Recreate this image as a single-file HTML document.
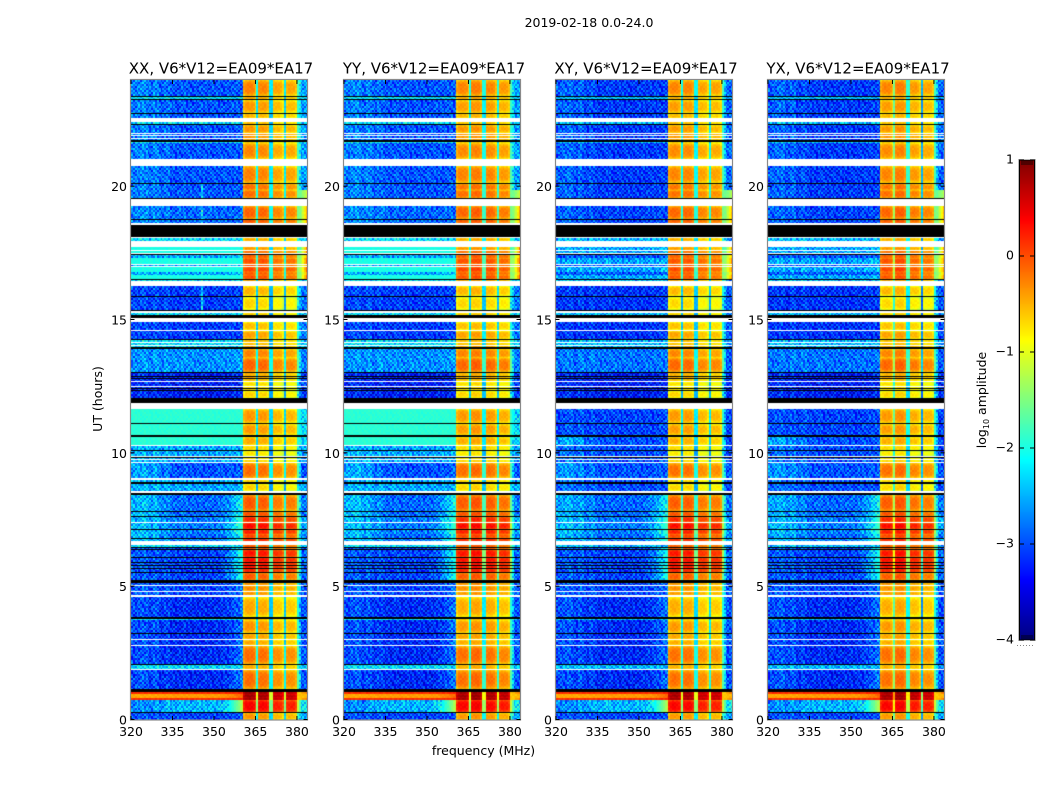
<!DOCTYPE html>
<html lang="en">
<head>
<meta charset="utf-8">
<title>2019-02-18 amplitude waterfall</title>
<style>
html,body{margin:0;padding:0;background:#fff;}
#figure{position:relative;width:1050px;height:800px;overflow:hidden;background:#fff;font-family:"DejaVu Sans","Liberation Sans",sans-serif;}
canvas{position:absolute;display:block;}
#overlay{position:absolute;left:0;top:0;}
#overlay text{font-family:"DejaVu Sans","Liberation Sans",sans-serif;fill:#000;}
</style>
</head>
<body>
<div id="figure">
  <canvas id="heat0" width="177" height="640" style="left:131px;top:80px"></canvas>
  <canvas id="heat1" width="177" height="640" style="left:344px;top:80px"></canvas>
  <canvas id="heat2" width="177" height="640" style="left:556px;top:80px"></canvas>
  <canvas id="heat3" width="177" height="640" style="left:768px;top:80px"></canvas>
  <canvas id="cbar" width="16" height="480" style="left:1019px;top:160px"></canvas>
  <svg id="overlay" width="1050" height="800" viewBox="0 0 1050 800">
    <text x="589" y="27" font-size="12.5" text-anchor="middle">2019-02-18 0.0-24.0</text>
    <text x="483.5" y="755" font-size="12.5" text-anchor="middle">frequency (MHz)</text>
    <text transform="translate(102,399) rotate(-90)" font-size="12.5" text-anchor="middle">UT (hours)</text>
    <text transform="translate(986,400) rotate(-90)" font-size="12.5" text-anchor="middle">log<tspan font-size="8" dy="3">10</tspan><tspan dy="-3"> amplitude</tspan></text>
  </svg>
</div>
<script>
// ---- Panels ----
const panelTitles = ["XX, V6*V12=EA09*EA17", "YY, V6*V12=EA09*EA17", "XY, V6*V12=EA09*EA17", "YX, V6*V12=EA09*EA17"];
const panelKeys = ["xx", "yy", "xy", "yx"];
const panelIsParallel = [true, true, false, false];

// ---- Axis ticks ----
const freqTicks = [320, 335, 350, 365, 380];
const utTicks = [0, 5, 10, 15, 20];
const colorTicks = [1, 0, -1, -2, -3, -4];
const colorTickLabels = ["1", "0", "\u22121", "\u22122", "\u22123", "\u22124"];

// ---- Time rows: start UT of each row, top to bottom ----
const W = -1, B = -2; // W = flagged (white), B = zero amplitude (black)
const rowStartUT = [
24,23.4,23.3625,23.2875,23.25,22.7625,22.725,22.575,22.425,22.35,
22.3125,22.0125,21.975,21.9375,21.9,21.825,21.7875,21.75,21.675,21.6375,
21.0375,20.775,20.1375,20.1,19.875,19.575,19.5375,19.275,18.7875,18.75,
18.6375,18.5625,18.1125,18.075,17.9625,17.7375,17.625,17.5875,17.5125,17.475,
17.4375,17.325,17.1,17.0625,17.025,16.9875,16.8,16.6875,16.5375,16.5,
16.4625,16.275,15.9,15.8625,15.375,15.3375,15.2625,15.1875,15.075,14.925,
14.625,14.5875,14.2875,14.25,14.175,14.1375,14.0625,14.025,13.9875,13.9125,
13.575,13.05,13.0125,12.9,12.8625,12.825,12.7875,12.7125,12.675,12.525,
12.4875,12.45,12.4125,12.375,12.3375,12.075,11.8875,11.6625,11.1375,11.1,
10.6875,10.6125,10.3125,10.275,10.125,10.0875,9.9,9.8625,9.825,9.7875,
9.75,9.675,9.6375,9.075,9,8.925,8.85,8.5875,8.5125,8.4375,
7.8375,7.8,7.65,7.6125,7.425,7.3875,7.1625,7.125,6.975,6.825,
6.7875,6.7125,6.5625,6.4875,6.45,6.4125,6.375,6.1125,6.075,5.925,
5.8875,5.8125,5.775,5.7,5.6625,5.55,5.5125,5.25,5.1375,5.0625,
5.025,4.8375,4.8,4.6875,4.6125,3.8625,3.7875,3.75,3.2625,3.225,
3.0375,3,2.8125,2.775,2.1,2.0625,1.9125,1.875,1.1625,1.05,
0.975,0.825,0.75,0.3,0.2625
];
// Regime index of each row (see the regime level arrays below)
const rowRegime = [
0,B,1,B,0,B,0,W,1,B,
0,W,0,W,0,W,0,B,1,0,
W,0,B,0,19,B,W,2,B,2,
W,B,W,1,W,3,W,3,W,B,
4,3,W,4,W,3,4,3,B,1,
W,5,B,5,B,W,1,B,W,5,
W,5,B,1,W,1,W,1,B,6,
6,B,7,B,7,B,7,W,7,W,
7,B,7,B,7,B,W,8,B,8,
B,20,W,9,B,9,W,B,9,W,
9,W,10,W,9,B,9,W,B,11,
B,11,B,12,W,12,B,12,11,B,
12,W,1,B,13,B,13,B,13,B,
13,B,13,B,13,B,13,B,14,W,
14,W,14,W,15,B,1,15,B,15,
W,15,W,15,B,1,W,15,B,16,
17,16,18,B,21
];
// Log10 amplitude of the passband core in each row
const rowPassband = [
-0.3,0,-0.5,0,-0.42,0,-0.55,0,-0.6,0,
-0.4,0,-0.4,0,-0.4,0,-0.5,0,-0.7,-0.33,
0,-0.3,0,-0.22,-0.2,0,0,-0.15,0,-0.1,
0,0,0,-0.5,0,-0.4,0,-0.2,0,0,
-0.1,-0.05,0,-0.05,0,0,-0.1,-0.05,0,-0.5,
0,-0.55,0,-0.72,0,0,-0.7,0,0,-0.6,
0,-0.45,0,-0.6,0,-0.6,0,-0.5,0,-0.3,
-0.15,0,-0.5,0,-0.5,0,-0.6,0,-0.75,0,
-0.8,0,-0.8,0,-0.7,0,0,-0.4,0,-0.42,
0,-0.5,0,-0.7,0,-0.8,0,0,-0.8,0,
-0.7,0,-0.2,0,-0.7,0,-0.7,0,0,-0.1,
0,-0.05,0,0.15,0,0.3,0,0.2,0,0,
0.15,0,-0.1,0,-0.1,0,0.25,0,0.3,0,
0.25,0,0.25,0,0.2,0,-0.1,0,-0.4,0,
-0.35,0,-0.4,0,-0.5,0,-0.6,-0.4,0,-0.45,
0,-0.5,0,-0.2,0,-0.5,0,-0.2,0,0.8,
0.8,0.8,0.35,0,-0.4
];

// ---- Regime levels (log10 amplitude) for the low band: parallel hands (XX, YY) ----
const parallelLeft     = [-2.8,-2.3,-2.75,-2.0,-2.6,-3.1,-2.72,-3.25,-1.92,-2.55,-2.6,-2.5,-2.5,-3.0,-3.0,-3.05,0.15,-0.45,-2.75,-2.8,-1.92,-3.05];
const parallelMid      = [-3.0,-2.3,-2.9,-2.0,-2.6,-3.15,-2.7,-3.35,-1.92,-2.6,-3.0,-2.9,-2.8,-3.1,-3.1,-3.25,0.15,-0.4,-2.5,-3.0,-1.92,-3.1];
const parallelShoulder = [-2.95,-2.3,-2.85,-2.0,-2.4,-3.05,-2.6,-3.2,-1.92,-2.5,-2.9,-2.0,-1.7,-1.9,-2.8,-2.75,0.2,-0.1,-1.1,-2.95,-1.92,-3.0];
const parallelRight    = [-2.6,-2.4,-0.2,0.2,-0.1,-2.8,-2.8,-3.1,-2.3,-2.6,-3.0,-2.8,-2.6,-2.9,-3.0,-3.0,-0.1,-0.5,-2.2,-1.0,-2.3,-2.6];

// ---- Regime levels for the low band: cross hands (XY, YX) ----
const crossLeft     = [-2.95,-2.5,-2.95,-2.6,-3.0,-3.2,-2.85,-3.25,-3.05,-2.9,-2.7,-2.6,-2.5,-3.0,-3.0,-3.05,0.15,-0.45,-2.75,-2.95,-2.6,-3.05];
const crossMid      = [-3.15,-2.5,-3.1,-2.6,-3.0,-3.2,-2.85,-3.35,-3.1,-3.05,-3.0,-2.9,-2.8,-3.1,-3.1,-3.25,0.15,-0.4,-2.5,-3.15,-3.0,-3.1];
const crossShoulder = [-3.1,-2.5,-3.0,-2.4,-2.9,-3.1,-2.8,-3.2,-3.0,-3.0,-2.9,-2.0,-1.7,-1.9,-2.8,-2.75,0.2,-0.1,-1.1,-3.1,-3.0,-3.0];
const crossRight    = [-2.9,-2.7,-0.3,-0.1,-0.4,-3.0,-3.0,-3.2,-3.1,-3.1,-3.0,-2.8,-2.6,-2.9,-3.0,-3.0,-0.1,-0.5,-2.2,-1.2,-3.1,-2.6];

// ---- Spectral shape ----
const bandEdgesMHz = [360.5, 365.2, 370.3, 375.3, 380.2];
const blockOffsets = [[0,-0.03,-0.18,-0.18],[-0.03,0.02,-0.03,-0.13],[-0.03,-0.03,-0.18,-0.18],[-0.03,0.02,-0.13,-0.18]];
const notchDepths = [[1.8,1.9,1.9],[1.7,1.7,1.7],[1.8,1.8,1.8],[1.2,1.6,2.2]];
const leftStripes = [0,0.05,0.1,-0.05,0.12,-0.05,0.1,0,0,0.05];
const rfiFreqMHz = [345.7];
const rfiFromUT = [20.1];
const rfiToUT = [15];
const rfiLevel = [-2.2];
const rfiPanel = [0];

// Receiver-noise speckle sampled from a fixed table (17 columns x 13 rows, tenths)
const speckleColumns = 17, speckleRows = 13;
const speckleTable = [
 3,-7, 9,-2, 5,-9, 1, 7,-4, 8,-6, 2,-8, 6,-1, 4,-5,
-6, 8,-3, 1,-8, 4, 9,-5, 2,-1, 7,-9, 3, 5,-7, 0, 6,
 9,-1, 5,-7, 3, 0,-6, 8,-9, 4, 1,-4, 7,-2, 6,-8, 2,
-4, 2,-9, 6, 7,-3, 4,-1, 5,-7, 9, 0,-5, 8, 1,-6,-2,
 7,-5, 1, 8,-6, 9,-2, 3,-8, 0, 5,-3, 2,-9, 4, 6,-7,
-1, 6,-8, 3, 0,-4, 7,-9, 6, 2,-5, 8,-1, 4,-3, 9,-6,
 5,-2, 4,-9, 8, 1,-7, 5, 0,-3, 6,-8, 9,-4, 2,-5, 3,
-8, 9, 0, 4,-5, 6,-1,-6, 7, 3,-9, 1, 5,-2, 8,-3,-4,
 2,-4, 7,-6, 1,-8, 5, 9,-2, 6, 0,-7, 4, 3,-9, 7,-1,
-3, 5,-1, 9,-2, 3,-9, 0, 8,-5, 2, 6,-6, 1, 7,-4, 4,
 8,-8, 6, 0,-7, 5, 2,-3, 1, 9,-4, 3,-2,-7, 5,-9, 1,
-5, 1,-4, 7, 4,-6, 8,-8, 3,-2, 6,-1, 9,-5, 0, 2,-7,
 6,-3, 2,-5, 9,-1, 0, 4,-7, 5,-8, 7, 1,-6, 3, 8,-9
];

// ---- Scales ----
const plotTop = 80, plotHeight = 640, plotWidth = 177;
const panelLeft = [131, 344, 556, 768];
const freqMin = 320, freqMax = 384, utMin = 0, utMax = 24;
const channelCount = 96, pixelRowCount = 640;
function xScale(freq) { return (freq - freqMin) / (freqMax - freqMin) * plotWidth; }
function yScale(ut) { return (utMax - ut) / (utMax - utMin) * plotHeight; }
function colorY(v) { return (1 - v) / 5 * 480; }

function clamp01(v) { return v < 0 ? 0 : v > 1 ? 1 : v; }
function jet(logAmp) {
  const t = clamp01((logAmp + 4) / 5);
  const r = clamp01(Math.min(4 * t - 1.5, -4 * t + 4.5));
  const g = clamp01(Math.min(4 * t - 0.5, -4 * t + 3.5));
  const b = clamp01(Math.min(4 * t + 0.5, -4 * t + 2.5));
  return "rgb(" + Math.round(r * 255) + "," + Math.round(g * 255) + "," + Math.round(b * 255) + ")";
}

function lowBandLevel(freq, left, mid, shoulder) {
  if (freq <= 326) return left;
  if (freq <= 336) return left + (mid - left) * (freq - 326) / 10;
  if (freq <= 350) return mid;
  const u = (freq - 350) / 10.5;
  return mid + (shoulder - mid) * u * u;
}

function channelLevel(panel, freq, regime, pass, rowPhase) {
  const par = panelIsParallel[panel];
  const left = (par ? parallelLeft : crossLeft)[regime];
  const mid = (par ? parallelMid : crossMid)[regime];
  const shoulder = (par ? parallelShoulder : crossShoulder)[regime];
  const right = (par ? parallelRight : crossRight)[regime];
  if (freq < bandEdgesMHz[0]) {
    let lvl = lowBandLevel(freq, left, mid, shoulder);
    if (freq < 340 && lvl < -2.1) lvl += leftStripes[Math.floor((freq - 320) / 2)];
    return lvl;
  }
  if (freq >= bandEdgesMHz[4]) {
    const start = pass - 1.4;
    if (right > -2) {
      const h = (freq - bandEdgesMHz[4]) / 3.8;
      return start + (right - start) * h * h;
    }
    const u = Math.min(1, (freq - bandEdgesMHz[4]) / 1.5);
    return start + (right - start) * u;
  }
  for (let k = 0; k < 4; k++) {
    const a = bandEdgesMHz[k], b = bandEdgesMHz[k + 1];
    if (freq >= a && freq < b) {
      const u = Math.abs(2 * (freq - a) / (b - a) - 1);
      const rowShape = Math.pow(Math.abs(2 * rowPhase - 1), 4);
      let lvl = pass + blockOffsets[panel][k] + 0.06 - 0.4 * u * u * u * u - 0.4 * rowShape;
      if (k > 0 && freq - a < 0.7) lvl = pass - notchDepths[panel][k - 1];
      return lvl;
    }
  }
  return pass;
}

function drawPanel(panel) {
  const ctx = document.getElementById("heat" + panel).getContext("2d");
  ctx.fillStyle = "#fff";
  ctx.fillRect(0, 0, plotWidth, plotHeight);
  const dUT = (utMax - utMin) / pixelRowCount;
  const dF = (freqMax - freqMin) / channelCount;
  let rowIndex = 0;
  for (let r = 0; r < pixelRowCount; r++) {
    const utTop = utMax - r * dUT;
    const utMid = utTop - dUT / 2;
    while (rowIndex + 1 < rowStartUT.length && rowStartUT[rowIndex + 1] > utMid) rowIndex++;
    const regime = rowRegime[rowIndex];
    const y0 = Math.round(yScale(utTop));
    const y1 = Math.round(yScale(utTop - dUT));
    if (regime === W) continue;
    if (regime === B) {
      ctx.fillStyle = "#000";
      ctx.fillRect(0, y0, plotWidth, y1 - y0);
      continue;
    }
    const rowHigh = rowStartUT[rowIndex];
    const rowLow = rowIndex + 1 < rowStartUT.length ? rowStartUT[rowIndex + 1] : utMin;
    const phase = (rowHigh - utMid) / (rowHigh - rowLow);
    const pass = rowPassband[rowIndex];
    const coarse = Math.floor(r * 0.5);
    for (let c = 0; c < channelCount; c++) {
      const f0 = freqMin + c * dF;
      const freq = f0 + dF / 2;
      let lvl = channelLevel(panel, freq, regime, pass, phase);
      for (let q = 0; q < rfiFreqMHz.length; q++) {
        if (rfiPanel[q] === panel && Math.abs(freq - rfiFreqMHz[q]) < dF / 2 && utMid < rfiFromUT[q] && utMid > rfiToUT[q] && lvl < rfiLevel[q]) lvl = rfiLevel[q];
      }
      const sc = (c + panel * 5 + 3 * Math.floor(coarse / speckleRows)) % speckleColumns;
      const sr = coarse % speckleRows;
      const inPassband = freq >= bandEdgesMHz[0] && freq < bandEdgesMHz[4];
      const amp = (lvl < -2.1 && !inPassband) ? 0.055 : 0.008;
      lvl += speckleTable[sr * speckleColumns + sc] * amp;
      const x0 = Math.round(xScale(f0));
      const x1 = Math.round(xScale(f0 + dF));
      ctx.fillStyle = jet(lvl);
      ctx.fillRect(x0, y0, x1 - x0, y1 - y0);
    }
  }
}

function drawColorbar() {
  const ctx = document.getElementById("cbar").getContext("2d");
  for (let y = 0; y < 480; y++) {
    ctx.fillStyle = jet(1 - (y + 0.5) / 480 * 5);
    ctx.fillRect(0, y, 16, 1);
  }
}

const SVG_NS = "http://www.w3.org/2000/svg";
const overlay = document.getElementById("overlay");
function svgEl(tag, attrs) {
  const el = document.createElementNS(SVG_NS, tag);
  for (const k in attrs) el.setAttribute(k, attrs[k]);
  overlay.appendChild(el);
  return el;
}

function drawAxes(panel) {
  const left = panelLeft[panel];
  const frame = svgEl("rect", { x: left - 0.5, y: plotTop - 0.5, width: plotWidth, height: plotHeight + 0.5, fill: "none", stroke: "#8a8a8a", "stroke-width": 1.2 });
  
  

  const title = svgEl("text", { x: left + plotWidth / 2 + 1.5, y: 73.5, "font-size": 15, "text-anchor": "middle" });
  title.textContent = panelTitles[panel];
  
  

  freqTicks.forEach(function (f) {
    const x = left + xScale(f);
    const bottomTick = svgEl("line", { x1: x, x2: x, y1: plotTop + plotHeight, y2: plotTop + plotHeight - 4, stroke: "#000", "stroke-width": 1 });
    
    
    const topTick = svgEl("line", { x1: x, x2: x, y1: plotTop, y2: plotTop + 4, stroke: "#000", "stroke-width": 1 });
    
    
    const label = svgEl("text", { x: x, y: 736, "font-size": 12.5, "text-anchor": "middle" });
    label.textContent = String(f);
    
    
  });

  utTicks.forEach(function (u) {
    const y = plotTop + yScale(u);
    const leftTick = svgEl("line", { x1: left - 0.5, x2: left + 3.5, y1: y - 0.5, y2: y - 0.5, stroke: "#000", "stroke-width": 1 });
    
    
    const rightTick = svgEl("line", { x1: left + plotWidth - 0.5, x2: left + plotWidth - 4.5, y1: y - 0.5, y2: y - 0.5, stroke: "#000", "stroke-width": 1 });
    
    
    const label = svgEl("text", { x: left - 4, y: y + 4.5, "font-size": 12.5, "text-anchor": "end" });
    label.textContent = String(u);
    
    
  });
}

function drawColorbarAxis() {
  const cbLeft = 1019, cbTop = 160, cbW = 16, cbH = 480;
  const edge = svgEl("rect", { x: cbLeft + 0.5, y: cbTop, width: cbW - 1, height: cbH, fill: "none", stroke: "#000", "stroke-width": 1 });
  
  
  const halo = svgEl("rect", { x: cbLeft - 0.5, y: cbTop - 0.5, width: cbW + 1, height: cbH + 1, fill: "none", stroke: "#bbb", "stroke-width": 1 });
  
  
  colorTicks.forEach(function (v, i) {
    const y = cbTop + colorY(v);
    const a = svgEl("line", { x1: cbLeft, x2: cbLeft + 5, y1: y, y2: y, stroke: "#000", "stroke-width": 1 });
    
    
    const b = svgEl("line", { x1: cbLeft + cbW - 5, x2: cbLeft + cbW, y1: y, y2: y, stroke: "#000", "stroke-width": 1 });
    
    
    const label = svgEl("text", { x: cbLeft - 5, y: y + 3.5, "font-size": 12.5, "text-anchor": "end" });
    label.textContent = colorTickLabels[i];
    
    
  });
  for (let k = 0; k < 6; k++) {
    const x = cbLeft + 3 + k * 2;
    const t1 = svgEl("line", { x1: x, x2: x, y1: cbTop, y2: cbTop + 5, stroke: "#000", "stroke-width": 0.8 });
    
    
    const t2 = svgEl("line", { x1: x, x2: x, y1: cbTop + cbH, y2: cbTop + cbH - 5, stroke: "#000", "stroke-width": 0.8 });
    
    
  }
  const dots = svgEl("line", { x1: 1017, x2: 1035, y1: 645.5, y2: 645.5, stroke: "#888", "stroke-width": 1, "stroke-dasharray": "1 2" });
  
  
}

for (let p = 0; p < panelTitles.length; p++) {
  drawPanel(p);
  drawAxes(p);
}
drawColorbar();
drawColorbarAxis();
</script>
</body>
</html>
